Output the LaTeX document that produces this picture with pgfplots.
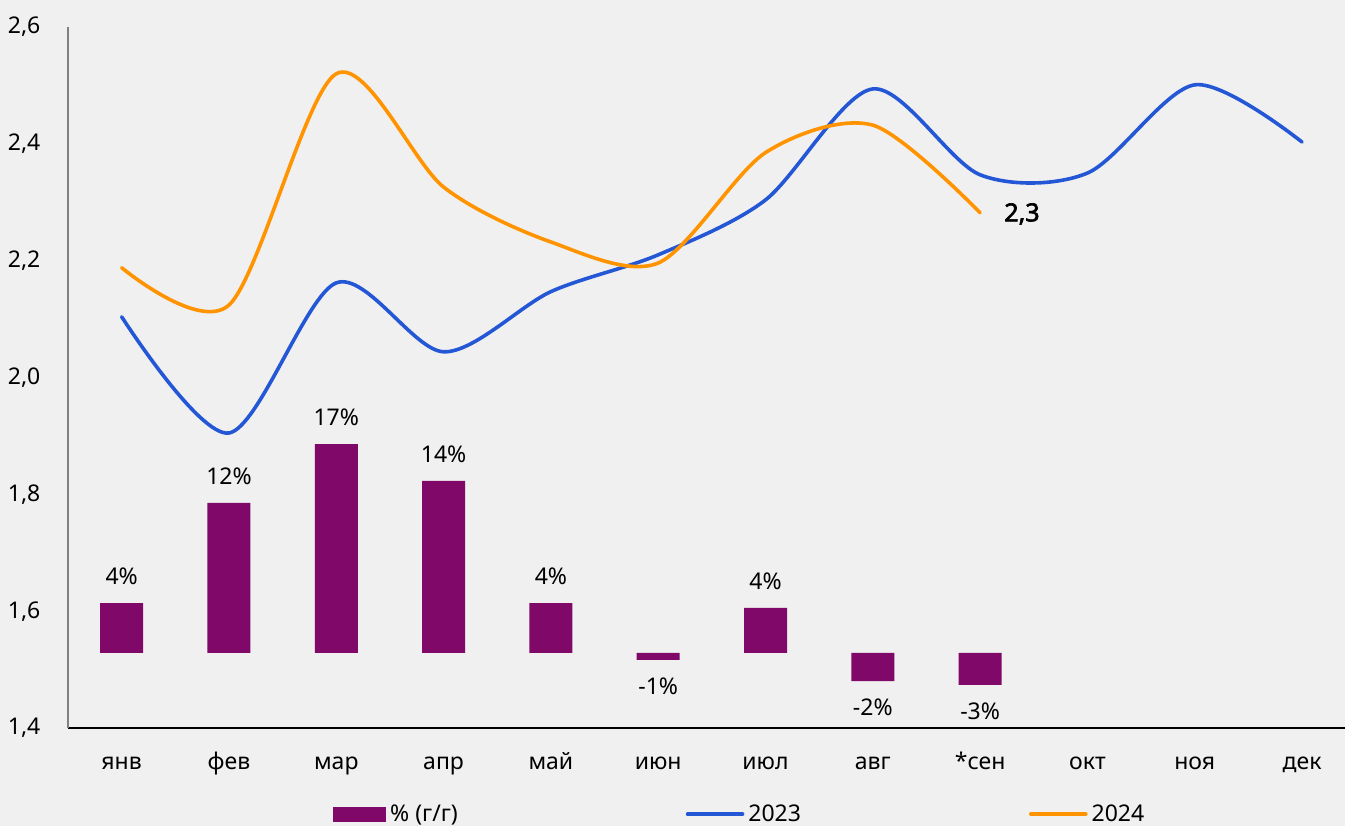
\documentclass[border=0pt]{standalone}
\usepackage{fontspec}
\setmainfont{Noto Sans}[AutoFakeBold=2.5]
\usepackage{pgfplots}
\pgfplotsset{compat=1.18}
\definecolor{bg}{HTML}{F0F0F0}
\definecolor{barc}{HTML}{800868}
\definecolor{c23}{HTML}{2457D6}
\definecolor{c24}{HTML}{FF9300}
\newcommand{\lblfont}{\fontsize{11.5pt}{13pt}\selectfont}
\begin{document}
\begin{tikzpicture}
\path[use as bounding box, fill=bg] (-34pt,-49pt) rectangle (638.5pt,364pt);
% bars (secondary, hidden axis)
\begin{axis}[at={(0,0)}, anchor=south west, scale only axis,
  width=638.5pt, height=350.5pt,
  xmin=-0.5, xmax=11.4, ymin=-6.05, ymax=50.48,
  hide axis, clip=false,
  ybar, bar width=21.5pt, bar shift=0pt,
  nodes near coords, point meta=explicit symbolic]
\addplot[fill=barc, draw=none,
  every node near coord/.append style={font=\lblfont, text=black, inner sep=0pt, outer sep=9pt, anchor=south}]
  coordinates {
  (0,4.03) [4\%]
  (1,12.1) [12\%]
  (2,16.85) [17\%]
  (3,13.87) [14\%]
  (4,4.03) [4\%]
  (6,3.63) [4\%]
};
\addplot[fill=barc, draw=none,
  every node near coord/.append style={font=\lblfont, text=black, inner sep=0pt, outer sep=9pt, anchor=north}]
  coordinates {
  (5,-0.56) [-1\%]
  (7,-2.26) [-2\%]
  (8,-2.58) [-3\%]
};
\end{axis}
% lines (primary axis)
\begin{axis}[at={(0,0)}, anchor=south west, scale only axis,
  width=638.5pt, height=350.5pt,
  xmin=-0.5, xmax=11.4, ymin=1.4, ymax=2.6,
  axis x line=bottom, axis y line=left, axis line style={-},
  x axis line style={black, line width=0.6pt},
  y axis line style={black!50, line width=0.75pt},
  xtick={0,...,11},
  xticklabels={янв,фев,мар,апр,май,июн,июл,авг,*сен,окт,ноя,дек},
  ytick={1.4,1.6,1.8,2.0,2.2,2.4,2.6},
  yticklabels={{1,4},{1,6},{1,8},{2,0},{2,2},{2,4},{2,6}},
  tick style={draw=none},
  xticklabel style={font=\lblfont, anchor=base, inner sep=0pt, yshift=-18.5pt},
  yticklabel style={font=\lblfont, anchor=east, inner sep=0pt, xshift=-11.5pt},
  clip=false,
  legend image code/.code={\draw[#1, line cap=round] (0pt,0pt) -- (27.5pt,0pt);},
  legend columns=3,
  legend style={at={(0.2075,-0.123)}, anchor=west, draw=none, fill=none,
    font=\lblfont, inner sep=0pt,
    /tikz/every even column/.append style={column sep=112pt}},
  ]
\addlegendimage{legend image code/.code={\fill[barc] (0pt,-3.5pt) rectangle (26pt,3.5pt);}}
\addlegendentry{\% (г/г)}
\addplot[c23, line width=1.8pt, smooth, line cap=round] coordinates {
  (0,2.104) (1,1.905) (2,2.162) (3,2.044) (4,2.147) (5,2.21)
  (6,2.304) (7,2.494) (8,2.347) (9,2.350) (10,2.501) (11,2.403)
};
\addlegendentry{2023}
\addplot[c24, line width=1.8pt, smooth, line cap=round] coordinates {
  (0,2.188) (1,2.124) (2,2.52) (3,2.326) (4,2.232) (5,2.196)
  (6,2.385) (7,2.432) (8,2.282)
};
\addlegendentry{2024}
\node[font=\bfseries\fontsize{12.5pt}{14pt}\selectfont] at (axis cs:8.39,2.280) {2,3};
\end{axis}
\end{tikzpicture}
\end{document}
